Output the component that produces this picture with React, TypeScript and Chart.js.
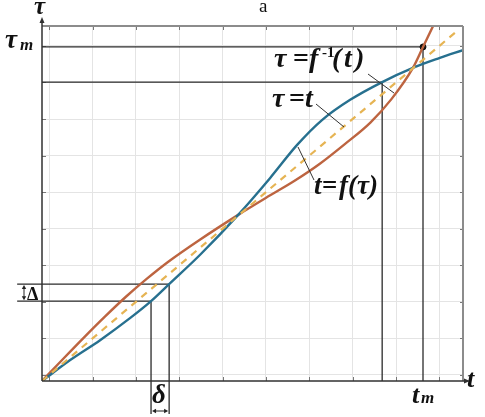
import React, { useEffect, useRef } from "react";
import { Chart, registerables } from "chart.js";

Chart.register(...registerables);

// grid positions (normalised units, 0..100 across the plot)
const gridTicks = [1.7, 12.0, 22.3, 32.6, 42.9, 53.2, 63.5, 73.8, 84.1, 94.4];

// blue curve: tau = f^-1(t)
const inverseT = [0, 6.7, 13.8, 20.9, 25.9, 30.2, 37.5, 46.6, 54.2, 60.6, 66.5, 73.2, 80.8, 88.1, 94.5, 100];
const inverseTau = [0, 5.9, 11.5, 17.7, 22.5, 27.3, 35.5, 46.8, 57.2, 66.5, 73.5, 79.2, 84.2, 88.2, 91.0, 93.2];

// brown curve: t = f(tau)
const forwardT = [0, 5, 10, 15, 20, 25, 30, 37.5, 46.6, 54.2, 60, 66, 72, 78, 83, 88.1, 90.5, 92.9];
const forwardTau = [0, 6.2, 12.3, 18.2, 23.8, 28.9, 33.6, 39.8, 46.8, 52.3, 56.4, 61.2, 66.8, 72.8, 79.4, 88.2, 94.1, 100];

// dashed tau = t
const identityT = [0, 99];
const identityTau = [0, 99];

// marked values
const tM = 90.5;
const tauM = 94.1;
const t1 = 80.8;
const tau1 = 84.2;
const deltaT = [25.9, 30.2];
const deltaTau = [22.5, 27.3];

const SERIF = "'Liberation Serif', 'DejaVu Serif', serif";

const BLUE = "#27708f";
const BROWN = "#bd6440";
const DASH = "#e6b453";

type Piece = { t: string; f: string; x: number; dy?: number };

function drawPieces(ctx: CanvasRenderingContext2D, y: number, parts: Piece[]) {
  for (const p of parts) {
    ctx.font = p.f;
    ctx.fillText(p.t, p.x, y + (p.dy || 0));
  }
}

function line(ctx: CanvasRenderingContext2D, x1: number, y1: number, x2: number, y2: number) {
  ctx.beginPath();
  ctx.moveTo(x1, y1);
  ctx.lineTo(x2, y2);
  ctx.stroke();
}

function arrowHead(ctx: CanvasRenderingContext2D, x: number, y: number, dx: number, dy: number, len: number, w: number) {
  const nx = -dy, ny = dx;
  ctx.beginPath();
  ctx.moveTo(x, y);
  ctx.lineTo(x - dx * len + nx * w, y - dy * len + ny * w);
  ctx.lineTo(x - dx * len - nx * w, y - dy * len - ny * w);
  ctx.closePath();
  ctx.fill();
}

const annotPlugin = {
  id: "annot",
  beforeDatasetsDraw(chart: any) {
    const ctx: CanvasRenderingContext2D = chart.ctx;
    const xs = chart.scales.x, ys = chart.scales.y;
    const X = (v: number) => xs.getPixelForValue(v);
    const Y = (v: number) => ys.getPixelForValue(v);
    const { left, right, top, bottom } = chart.chartArea;
    ctx.save();
    ctx.strokeStyle = "#777";
    ctx.lineWidth = 1;
    for (const g of gridTicks) {
      const px = Math.round(X(g)) + 0.5;
      line(ctx, px, top, px, top + 4);
      line(ctx, px, bottom, px, bottom - 4);
      const py = Math.round(Y(g)) + 0.5;
      line(ctx, left, py, left + 4, py);
      line(ctx, right, py, right - 3, py);
    }
    ctx.strokeStyle = "#2a2a2a";
    ctx.lineWidth = 1.3;
    line(ctx, left, Y(tauM), X(tM), Y(tauM));
    line(ctx, X(tM), Y(tauM), X(tM), bottom);
    line(ctx, left, Y(tau1), X(t1), Y(tau1));
    line(ctx, X(t1), Y(tau1), X(t1), bottom);
    const farLeft = X(-5.9);
    const below = Y(-9.3);
    line(ctx, farLeft, Y(deltaTau[0]), X(deltaT[0]), Y(deltaTau[0]));
    line(ctx, farLeft, Y(deltaTau[1]), X(deltaT[1]), Y(deltaTau[1]));
    line(ctx, X(deltaT[0]), Y(deltaTau[0]), X(deltaT[0]), below);
    line(ctx, X(deltaT[1]), Y(deltaTau[1]), X(deltaT[1]), below);
    ctx.restore();
  },
  afterDatasetsDraw(chart: any) {
    const ctx: CanvasRenderingContext2D = chart.ctx;
    const xs = chart.scales.x, ys = chart.scales.y;
    const X = (v: number) => xs.getPixelForValue(v);
    const Y = (v: number) => ys.getPixelForValue(v);
    const { left, right, top, bottom } = chart.chartArea;
    ctx.save();
    ctx.strokeStyle = "#8c8c8c";
    ctx.lineWidth = 2;
    line(ctx, left, top, right, top);
    line(ctx, right, top, right, bottom);
    ctx.strokeStyle = "#303030";
    ctx.fillStyle = "#303030";
    ctx.lineWidth = 1.5;
    line(ctx, left, bottom, left, top - 6);
    arrowHead(ctx, left, top - 9, 0, -1, 6, 2.5);
    line(ctx, left, bottom, right + 3, bottom);
    arrowHead(ctx, right + 7, bottom, 1, 0, 6, 2.5);

    // leader lines
    ctx.strokeStyle = "#333";
    ctx.lineWidth = 1;
    line(ctx, left + 326, top + 48, left + 352, top + 67);
    line(ctx, left + 274, top + 78, left + 302, top + 101);
    line(ctx, left + 256, top + 121, left + 272, top + 154);

    // Δ double arrow
    ctx.fillStyle = "#222";
    ctx.strokeStyle = "#222";
    ctx.lineWidth = 1;
    const ax = left - 18;
    const yA = Y(deltaTau[1]), yB = Y(deltaTau[0]);
    line(ctx, ax, yA + 3, ax, yB - 3);
    arrowHead(ctx, ax, yA + 1, 0, -1, 4, 2.2);
    arrowHead(ctx, ax, yB - 1, 0, 1, 4, 2.2);
    // δ double arrow
    const ay = bottom + 30;
    const xA = X(deltaT[0]), xB = X(deltaT[1]);
    line(ctx, xA + 3, ay, xB - 3, ay);
    arrowHead(ctx, xA + 1, ay, -1, 0, 4, 2.2);
    arrowHead(ctx, xB - 1, ay, 1, 0, 4, 2.2);

    // texts
    ctx.fillStyle = "#111";
    ctx.textBaseline = "alphabetic";
    ctx.textAlign = "left";
    ctx.font = `19px ${SERIF}`;
    ctx.fillText("a", 259, 12);

    const BI = (s: number) => `bold italic ${s}px ${SERIF}`;
    const B = (s: number) => `bold ${s}px ${SERIF}`;

    drawPieces(ctx, 14, [{ t: "τ", f: BI(25), x: 34 }]);
    drawPieces(ctx, 48, [
      { t: "τ", f: BI(27), x: 5 },
      { t: "m", f: BI(17), x: 20, dy: 2 },
    ]);
    drawPieces(ctx, 387, [{ t: "t", f: BI(26), x: 467 }]);
    drawPieces(ctx, 403, [
      { t: "t", f: BI(26), x: 412 },
      { t: "m", f: BI(17), x: 421 },
    ]);

    drawPieces(ctx, 67, [
      { t: "τ", f: BI(28), x: 274 },
      { t: "=", f: B(28), x: 293 },
      { t: "f", f: BI(28), x: 309 },
      { t: "-1", f: B(15), x: 322, dy: -10 },
      { t: "(", f: BI(28), x: 332 },
      { t: "t", f: BI(28), x: 344 },
      { t: ")", f: BI(28), x: 355 },
    ]);
    drawPieces(ctx, 107, [
      { t: "τ", f: BI(28), x: 272 },
      { t: "=", f: B(28), x: 289 },
      { t: "t", f: BI(28), x: 305 },
    ]);
    drawPieces(ctx, 194, [
      { t: "t", f: BI(27), x: 314 },
      { t: "=", f: B(27), x: 322 },
      { t: "f", f: BI(27), x: 339 },
      { t: "(τ)", f: BI(27), x: 348 },
    ]);

    drawPieces(ctx, 300, [{ t: "Δ", f: B(18), x: 27 }]);
    drawPieces(ctx, 403, [{ t: "δ", f: BI(27), x: 152 }]);
    ctx.restore();
  },
};

function pts(xv: number[], yv: number[]) {
  return xv.map((x, i) => ({ x, y: yv[i] }));
}

export default function App() {
  const ref = useRef<HTMLCanvasElement | null>(null);
  useEffect(() => {
    document.body.style.margin = "0";
    const canvas = ref.current!;
    const chart = new Chart(canvas, {
      type: "scatter",
      data: {
        datasets: [
          {
            data: pts(identityT, identityTau),
            showLine: true,
            borderColor: DASH,
            borderWidth: 2.2,
            borderDash: [7, 6],
            pointRadius: 0,
          },
          {
            data: pts(inverseT, inverseTau),
            showLine: true,
            borderColor: BLUE,
            borderWidth: 2.4,
            pointRadius: 0,
            cubicInterpolationMode: "monotone",
          },
          {
            data: pts(forwardT, forwardTau),
            showLine: true,
            borderColor: BROWN,
            borderWidth: 2.4,
            pointRadius: 0,
            cubicInterpolationMode: "monotone",
          },
          {
            data: [{ x: tM, y: tauM }],
            showLine: false,
            pointRadius: 3,
            pointBackgroundColor: "#111",
            pointBorderColor: "#111",
            clip: false as any,
          },
        ],
      },
      options: {
        responsive: false,
        animation: false,
        devicePixelRatio: 1,
        layout: { padding: { left: 42, right: 22, top: 26, bottom: 36 } },
        plugins: { legend: { display: false }, tooltip: { enabled: false } },
        events: [],
        scales: {
          x: {
            type: "linear",
            min: 0,
            max: 100,
            afterBuildTicks: (s: any) => {
              s.ticks = gridTicks.map((v) => ({ value: v }));
            },
            ticks: { display: false },
            border: { display: false },
            grid: { color: "#e4e4e4", lineWidth: 1, drawTicks: false },
          },
          y: {
            type: "linear",
            min: 0,
            max: 100,
            afterBuildTicks: (s: any) => {
              s.ticks = gridTicks.map((v) => ({ value: v }));
            },
            ticks: { display: false },
            border: { display: false },
            grid: { color: "#e4e4e4", lineWidth: 1, drawTicks: false },
          },
        },
      },
      plugins: [annotPlugin],
    } as any);
    return () => chart.destroy();
  }, []);
  return (
    <div style={{ width: 485, height: 417, background: "#fff" }}>
      <canvas ref={ref} width={485} height={417} style={{ display: "block" }} />
    </div>
  );
}
